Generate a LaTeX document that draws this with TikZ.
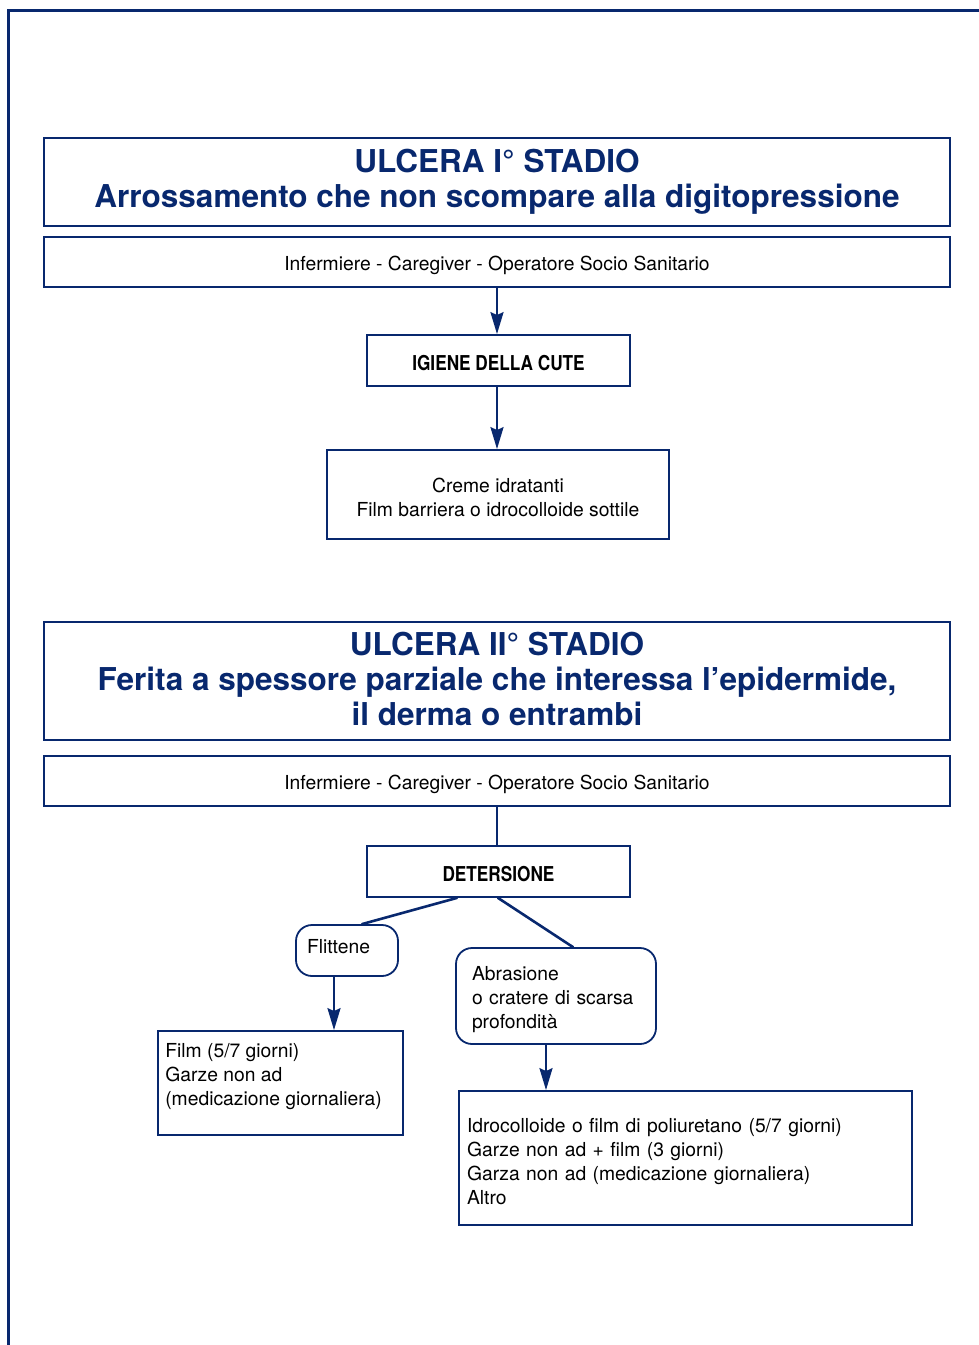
\documentclass[tikz,border=0pt]{standalone}
\usepackage{fontspec}
\setmainfont{TeX Gyre Heros}
\newfontfamily\stepfont{TeX Gyre Heros}[FakeStretch=0.84]
\usetikzlibrary{arrows.meta, calc}
\definecolor{ulcerNavy}{RGB}{8,40,110}
\newcommand{\padtop}[1]{\rule{0pt}{#1}}
\newcommand{\padbot}[1]{\rule[-#1]{0pt}{#1}}
\tikzset{
	frameline/.style={draw=ulcerNavy, line width=3pt},
	box/.style={draw=ulcerNavy, line width=1.8pt, inner sep=0pt, align=center, font=\fontsize{19.3}{24}\selectfont},
	titlebox/.style={box, text=ulcerNavy, font=\fontsize{31.5}{35}\selectfont\bfseries},
	stepbox/.style={box, font=\stepfont\fontsize{20.5}{24}\selectfont\bfseries},
	roundbox/.style={box, rounded corners=16pt, align=left},
	link/.style={draw=ulcerNavy, line width=2.6pt},
	arr/.style={link, -{Stealth[length=22pt, width=13pt, inset=3pt]}},
}
\begin{document}
\begin{tikzpicture}[x=1pt, y=-1pt, line cap=round]
	\useasboundingbox (0,0) rectangle (979,1345);

	% page frame
	\draw[frameline, line cap=butt] (8,1345) -- (8,10) -- (979,10);

	% stadio I
	\node[titlebox, minimum width=906, minimum height=88] (title1) at (497,182)
		{ULCERA I° STADIO\\Arrossamento che non scompare alla digitopressione};
	\node[box, minimum width=906, minimum height=50] (role1) at (497,262)
		{\padtop{22pt}Infermiere - Caregiver - Operatore Socio Sanitario};
	\node[stepbox, minimum width=263, minimum height=51] (igiene) at (498.5,360.5)
		{\padtop{21pt}IGIENE DELLA CUTE};
	\node[box, minimum width=342, minimum height=89] (creme) at (498,494.5)
		{\padtop{21pt}Creme idratanti\\Film barriera o idrocolloide sottile};

	\draw[arr] (role1.south) -- (role1.south |- igiene.north);
	\draw[arr] (role1.south |- igiene.south) -- (role1.south |- creme.north);

	% stadio II
	\node[titlebox, minimum width=906, minimum height=118] (title2) at (497,681)
		{ULCERA II° STADIO\\Ferita a spessore parziale che interessa l’epidermide,\\il derma o entrambi\padbot{4pt}};
	\node[box, minimum width=906, minimum height=50] (role2) at (497,781)
		{\padtop{22pt}Infermiere - Caregiver - Operatore Socio Sanitario};
	\node[stepbox, minimum width=263, minimum height=51] (deters) at (498.5,871.5)
		{\padtop{21pt}DETERSIONE};

	\node[roundbox, minimum width=102, minimum height=51, text width=80, inner xsep=11pt] (flitt) at (347,950.5)
		{Flittene\padbot{8pt}};
	\node[roundbox, minimum width=200, minimum height=96, text width=168, inner xsep=16pt] (abras) at (556,996)
		{\padtop{22pt}Abrasione\\o cratere di scarsa\\profondità};

	\node[box, minimum width=245, minimum height=104] (film) at (280.5,1083) {};
	\node[anchor=north west, align=left, inner sep=0pt, font=\fontsize{19.3}{24}\selectfont] (filmtxt)
		at ($(film.north west)+(8,13)$)
		{Film (5/7 giorni)\\Garze non ad\\(medicazione giornaliera)};
	\node[box, minimum width=453, minimum height=134, text width=437, inner xsep=8pt, align=left] (idro) at (685.5,1158)
		{\padtop{22pt}Idrocolloide o film di poliuretano (5/7 giorni)\\Garze non ad + film (3 giorni)\\Garza non ad (medicazione giornaliera)\\Altro};

	\draw[link] (role2.south) -- (role2.south |- deters.north);
	\draw[link] ($(deters.south)+(-41.5,0)$) -- ($(flitt.north)+(15,0)$);
	\draw[link] ($(deters.south)+(-0.5,0)$) -- ($(abras.north)+(17,0)$);
	\draw[arr] ($(flitt.south)+(-13,0)$) coordinate (f1) -- (f1 |- film.north);
	\draw[arr] ($(abras.south)+(-10,0)$) coordinate (a1) -- (a1 |- idro.north);

\end{tikzpicture}
\end{document}
